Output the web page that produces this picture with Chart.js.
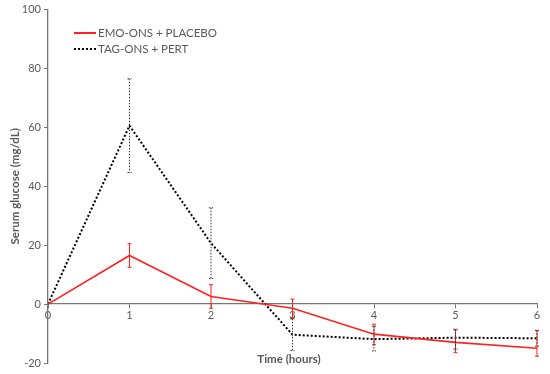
<!DOCTYPE html>
<html>
<head>
<meta charset="utf-8">
<script src="https://cdn.jsdelivr.net/npm/chart.js@4"></script>
<style>
  html, body { margin: 0; padding: 0; background: #fff; }
  #wrap { width: 550px; height: 374px; position: relative; }
</style>
</head>
<body>
<div id="wrap"><canvas id="chart"></canvas></div>
<script>
// time points (hours)
const hours = [0, 1, 2, 3, 4, 5, 6];

// EMO-ONS + PLACEBO
const emoMean = [0, 16.5, 2.6, -1.4, -10.2, -13, -15];
const emoHigh = [0, 20.5, 6.6, 1.7, -6.8, -8.8, -9];
const emoLow  = [0, 12.5, -1.4, -4.5, -13.8, -16.5, -17.7];

// TAG-ONS + PERT
const tagMean = [0, 60.6, 20.7, -10.4, -11.9, -11.4, -11.6];
const tagHigh = [0, 76.5, 32.7, -5, -7.5, -8.5, -8.9];
const tagLow  = [0, 44.7, 8.7, -15.8, -15.9, -15.3, -14.3];

const yTicks = [-20, 0, 20, 40, 60, 80, 100];

const FONT = 'Lato, "Liberation Sans", sans-serif';
const GREY = '#595959';

//draws the vertical error bars with caps
const errorBars = {
  id: 'errorBars',
  afterDatasetsDraw(chart) {
    const { ctx, scales: { x, y } } = chart;
    chart.data.datasets.forEach(ds => {
      ctx.save();
      ctx.strokeStyle = ds.errColor;
      ctx.lineWidth = 1;
      ctx.setLineDash(ds.errDash);
      hours.forEach((h, i) => {
        if (ds.errLow[i] === ds.errHigh[i]) return;
        const px = x.getPixelForValue(h);
        const top = y.getPixelForValue(ds.errHigh[i]);
        const bot = y.getPixelForValue(ds.errLow[i]);
        ctx.beginPath();
        ctx.moveTo(px, top); ctx.lineTo(px, bot);
        ctx.moveTo(px - 2, top); ctx.lineTo(px + 2, top);
        ctx.moveTo(px - 2, bot); ctx.lineTo(px + 2, bot);
        ctx.stroke();
      });
      ctx.restore();
    });
  }
};

//legend and x title drawn by hand so they sit inside the plot
const extras = {
  id: 'extras',
  afterDraw(chart) {
    const { ctx, chartArea } = chart;
    ctx.save();
    ctx.font = '11.5px ' + FONT;
    ctx.fillStyle = GREY;
    ctx.textBaseline = 'middle';
    const rows = [
      { label: 'EMO-ONS + PLACEBO', color: '#ff2020', dash: [], y: 33 },
      { label: 'TAG-ONS + PERT', color: '#000', dash: [2, 2], y: 49 }
    ];
    rows.forEach(r => {
      ctx.strokeStyle = r.color;
      ctx.lineWidth = 2;
      ctx.setLineDash(r.dash);
      ctx.beginPath();
      ctx.moveTo(74, r.y); ctx.lineTo(96, r.y);
      ctx.stroke();
      ctx.fillText(r.label, 98, r.y);
    });
    ctx.font = 'bold 11.5px ' + FONT;
    ctx.textAlign = 'center';
    ctx.fillText('Time (hours)', 289, chartArea.bottom - 4);
    ctx.restore();
  }
};

new Chart(document.getElementById('chart'), {
  type: 'line',
  data: {
    datasets: [
      {
        label: 'EMO-ONS + PLACEBO',
        data: hours.map((h, i) => ({ x: h, y: emoMean[i] })),
        borderColor: '#ff2020',
        borderWidth: 1.6,
        pointRadius: 0,
        tension: 0,
        errLow: emoLow, errHigh: emoHigh, errColor: '#ff2020', errDash: []
      },
      {
        label: 'TAG-ONS + PERT',
        data: hours.map((h, i) => ({ x: h, y: tagMean[i] })),
        borderColor: '#000',
        borderWidth: 2,
        borderDash: [2, 2],
        pointRadius: 0,
        tension: 0,
        errLow: tagLow, errHigh: tagHigh, errColor: '#333', errDash: [1.5, 1.5]
      }
    ]
  },
  options: {
    responsive: true,
    maintainAspectRatio: false,
    animation: false,
    layout: { padding: { top: 9, right: 13, bottom: 11, left: 0 } },
    plugins: { legend: { display: false }, tooltip: { enabled: false } },
    scales: {
      x: {
        type: 'linear',
        position: { y: 0 },
        min: 0, max: 6,
        grid: { drawOnChartArea: false, color: '#767676', tickLength: 4 },
        border: { color: '#767676', width: 1.3 },
        ticks: { stepSize: 1, color: GREY, font: { family: FONT, size: 11 }, padding: 1 }
      },
      y: {
        min: -20, max: 100,
        afterBuildTicks: axis => { axis.ticks = yTicks.map(v => ({ value: v })); },
        afterFit: axis => { axis.width = 48; },
        grid: { drawOnChartArea: false, color: '#767676', tickLength: 4 },
        border: { color: '#767676', width: 1.3 },
        ticks: { color: GREY, font: { family: FONT, size: 11 }, padding: 3 },
        title: {
          display: true,
          text: 'Serum glucose (mg/dL)',
          color: GREY,
          font: { family: FONT, size: 11.5, weight: 'bold' },
          padding: { top: 8, bottom: 0 }
        }
      }
    }
  },
  plugins: [errorBars, extras]
});
</script>
</body>
</html>
